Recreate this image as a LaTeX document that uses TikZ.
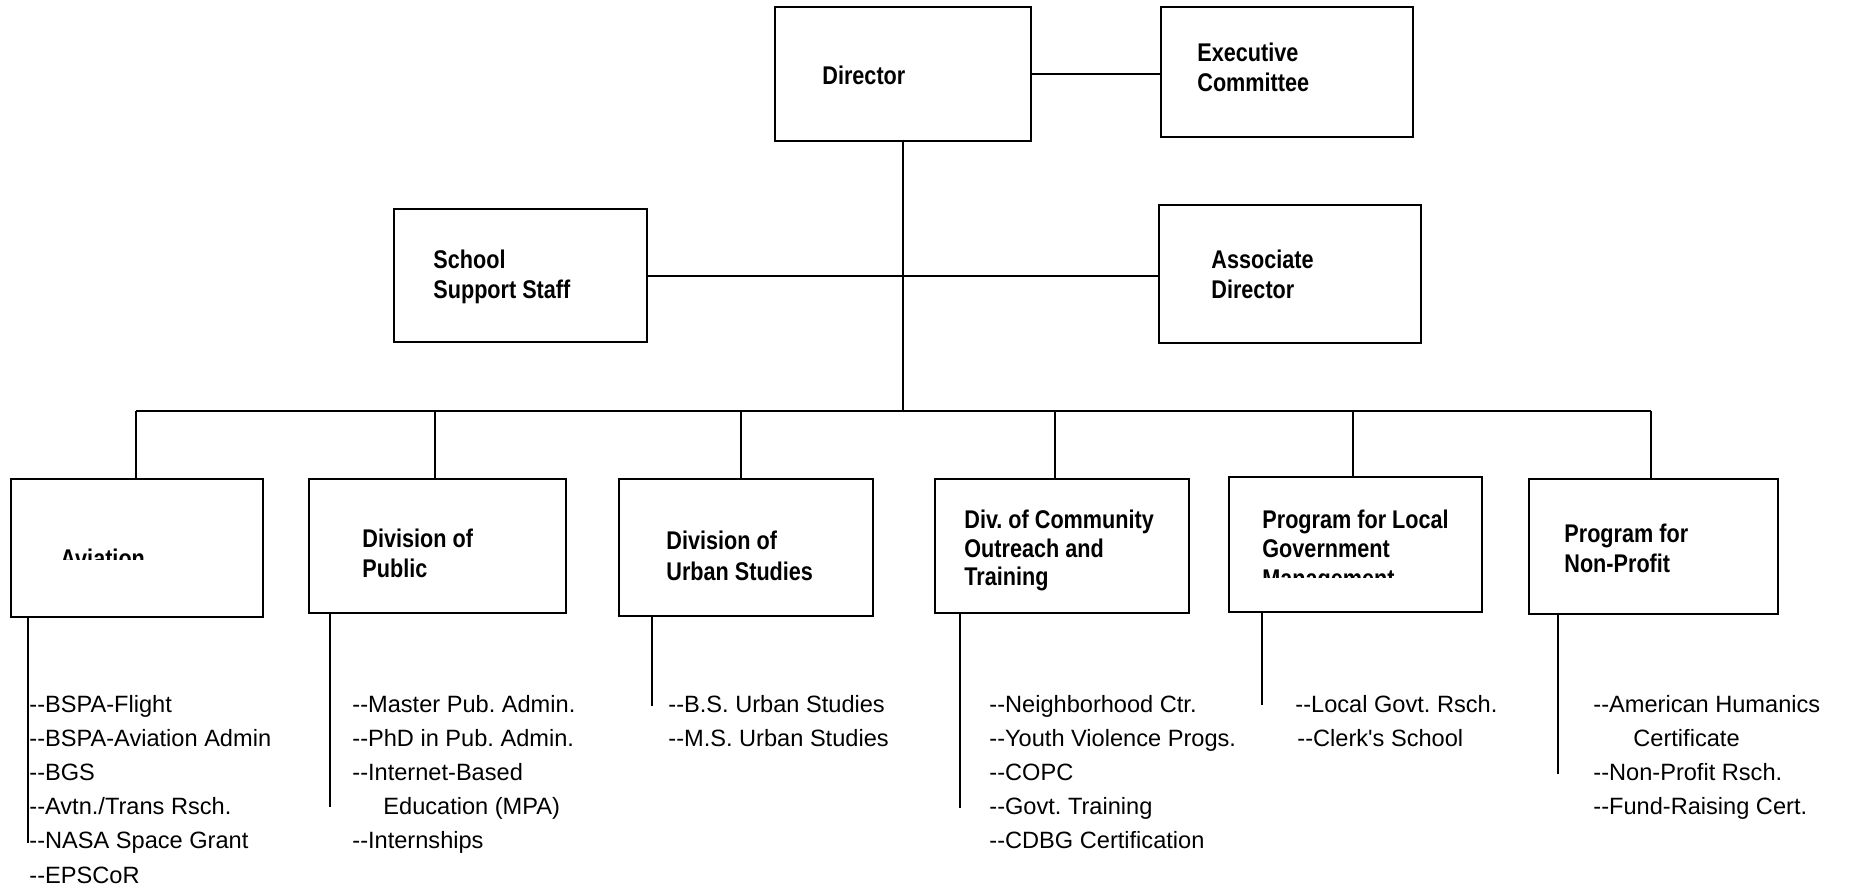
\documentclass[tikz,border=0pt]{standalone}
\usepackage{fontspec}
\setmainfont{Liberation Sans}
\newfontfamily\boxfont{Liberation Sans}[FakeStretch=0.845]
\usetikzlibrary{fit}
\newcommand\twodash{-\kern0pt-}
\frenchspacing
\begin{document}
\begin{tikzpicture}[x=0.5pt,y=-0.5pt,
  box/.style={draw,line width=1pt,inner sep=0pt,rectangle},
  btxt/.style={anchor=base west,inner sep=0pt,font=\boxfont\bfseries\fontsize{12.8}{15}\selectfont},
  itxt/.style={anchor=base west,inner sep=0pt,font=\fontsize{11.8}{14}\selectfont},
  conn/.style={line width=1pt}]
\useasboundingbox (0,0) rectangle (1849,888);
\fill[white] (0,0) rectangle (1849,888);
% top level boxes
\node[box,fit={(775,7) (1031,141)}] (dir) {};
\node[box,fit={(1161,7) (1413,137)}] (exec) {};
\node[box,fit={(394,209) (647,342)}] (staff) {};
\node[box,fit={(1159,205) (1421,343)}] (assoc) {};
% division boxes
\node[box,fit={(11,479) (263,617)}] (avi) {};
\node[box,fit={(309,479) (566,613)}] (pub) {};
\node[box,fit={(619,479) (873,616)}] (urb) {};
\node[box,fit={(935,479) (1189,613)}] (com) {};
\node[box,fit={(1229,477) (1482,612)}] (loc) {};
\node[box,fit={(1529,479) (1778,614)}] (npo) {};
% box texts
\node[btxt] (dir-t) at (822,85) {Director};
\node[btxt] (exec-t1) at (1197,62) {Executive};
\node[btxt] (exec-t2) at (1197,92) {Committee};
\node[btxt] (staff-t1) at (433,268) {School};
\node[btxt] (staff-t2) at (433,298) {Support Staff};
\node[btxt] (assoc-t1) at (1211,268) {Associate};
\node[btxt] (assoc-t2) at (1211,299) {Director};
\begin{scope}
\clip (11,479) rectangle (263,559);
\node[btxt] (avi-t) at (60,567.3) {Aviation};
\end{scope}
\node[btxt] (pub-t1) at (362,547) {Division of};
\node[btxt] (pub-t2) at (362,577) {Public};
\node[btxt] (urb-t1) at (666,549) {Division of};
\node[btxt] (urb-t2) at (666,580) {Urban Studies};
\node[btxt] (com-t1) at (964,528) {Div. of Community};
\node[btxt] (com-t2) at (964,557) {Outreach and};
\node[btxt] (com-t3) at (964,585) {Training};
\node[btxt] (loc-t1) at (1262,528) {Program for Local};
\node[btxt] (loc-t2) at (1262,557) {Government};
\begin{scope}
\clip (1229,477) rectangle (1482,577);
\node[btxt] (loc-t3) at (1262,587) {Management};
\end{scope}
\node[btxt] (npo-t1) at (1564,542) {Program for};
\node[btxt] (npo-t2) at (1564,572) {Non-Profit};
% connectors
\coordinate (bus) at (903,411);
\draw[conn] (dir.east) -- (dir.east -| exec.west);
\draw[conn] (dir.south) -- (dir.south |- bus);
\draw[conn] (staff.east) -- (staff.east -| assoc.west);
\draw[conn] ([xshift=-0.5pt]avi.north |- bus) -- ([xshift=-1.25pt]npo.north |- bus);
\draw[conn] ([xshift=-0.5pt]avi.north) -- ([xshift=-0.5pt]avi.north |- bus);
\draw[conn] ([xshift=-1.5pt]pub.north) -- ([xshift=-1.5pt]pub.north |- bus);
\draw[conn] ([xshift=-2.5pt]urb.north) -- ([xshift=-2.5pt]urb.north |- bus);
\draw[conn] ([xshift=-3.5pt]com.north) -- ([xshift=-3.5pt]com.north |- bus);
\draw[conn] ([xshift=-1.5pt]loc.north) -- ([xshift=-1.5pt]loc.north |- bus);
\draw[conn] ([xshift=-1.25pt]npo.north) -- ([xshift=-1.25pt]npo.north |- bus);
% down lines
\draw[conn] ([xshift=9pt]avi.south west) -- ++(0,225);
\draw[conn] ([xshift=11pt]pub.south west) -- ++(0,193);
\draw[conn] ([xshift=17pt]urb.south west) -- ++(0,89);
\draw[conn] ([xshift=13pt]com.south west) -- ++(0,194);
\draw[conn] ([xshift=17pt]loc.south west) -- ++(0,92);
\draw[conn] ([xshift=15pt]npo.south west) -- ++(0,159);
% item lists
\node[itxt] (a1) at (29,712) {\twodash BSPA-Flight};
\node[itxt] (a2) at (29,746) {\twodash BSPA-Aviation Admin};
\node[itxt] (a3) at (29,780) {\twodash BGS};
\node[itxt] (a4) at (29,814) {\twodash Avtn./Trans Rsch.};
\node[itxt] (a5) at (29,848) {\twodash NASA Space Grant};
\node[itxt] (a6) at (29,883) {\twodash EPSCoR};
\node[itxt] (p1) at (352,712) {\twodash Master Pub. Admin.};
\node[itxt] (p2) at (352,746) {\twodash PhD in Pub. Admin.};
\node[itxt] (p3) at (352,780) {\twodash Internet-Based};
\node[itxt] (p4) at (383,814) {Education (MPA)};
\node[itxt] (p5) at (352,848) {\twodash Internships};
\node[itxt] (u1) at (668,712) {\twodash B.S. Urban Studies};
\node[itxt] (u2) at (668,746) {\twodash M.S. Urban Studies};
\node[itxt] (c1) at (989,712) {\twodash Neighborhood Ctr.};
\node[itxt] (c2) at (989,746) {\twodash Youth Violence Progs.};
\node[itxt] (c3) at (989,780) {\twodash COPC};
\node[itxt] (c4) at (989,814) {\twodash Govt. Training};
\node[itxt] (c5) at (989,848) {\twodash CDBG Certification};
\node[itxt] (l1) at (1295,712) {\twodash Local Govt. Rsch.};
\node[itxt] (l2) at (1297,746) {\twodash Clerk\textquotesingle s School};
\node[itxt] (n1) at (1593,712) {\twodash American Humanics};
\node[itxt] (n2) at (1633,746) {Certificate};
\node[itxt] (n3) at (1593,780) {\twodash Non-Profit Rsch.};
\node[itxt] (n4) at (1593,814) {\twodash Fund-Raising Cert.};
\end{tikzpicture}
\end{document}
